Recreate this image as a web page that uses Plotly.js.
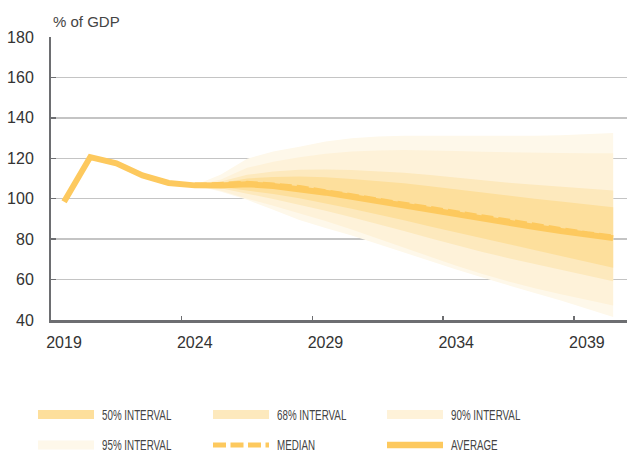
<!DOCTYPE html>
<html>
<head>
<meta charset="utf-8">
<script src="https://cdn.plot.ly/plotly-3.0.1.min.js"></script>
<style>html,body{margin:0;padding:0;background:#fff;}#chart{width:638px;height:455px;}</style>
</head>
<body>
<div id="chart"></div>
<script>
// ---- data ----
const years = [2019,2020,2021,2022,2023,2024,2025,2026,2027,2028,2029,2030,2031,2032,2033,2034,2035,2036,2037,2038,2039,2040];
const average = [98.5,120.6,117.5,111.5,107.8,106.6,106.5,107.2,106.3,104.9,103.0,100.9,98.7,96.5,94.2,92.2,90.0,88.0,86.0,84.0,82.2,80.5];
const fanYears = [2024,2025,2026,2027,2028,2029,2030,2031,2032,2033,2034,2035,2036,2037,2038,2039,2040];
const median = [106.6,106.9,107.6,106.8,105.5,103.5,101.4,99.2,97.0,94.8,92.7,90.5,88.5,86.5,84.5,82.7,81.0];
const p95High = [106.6,112.0,119.8,123.3,125.7,128.3,129.9,130.8,131.2,131.3,131.2,131.1,131.0,131.1,131.4,131.9,132.5];
const p95Low  = [106.6,103.5,99.5,94.5,89.5,85.5,81.8,77.8,73.5,69.2,65.0,61.0,57.0,53.3,49.7,45.5,41.5];
const p90High = [106.6,109.5,115.3,118.3,120.5,122.2,123.3,123.9,124.1,124.0,123.6,123.2,122.9,122.7,122.6,122.5,122.5];
const p90Low  = [106.6,104.0,100.0,96.5,92.8,89.0,84.8,80.4,75.9,71.3,66.8,62.7,59.0,55.7,52.7,49.9,47.2];
const p68High = [106.6,108.5,111.8,113.5,114.3,114.5,114.2,113.6,112.8,111.7,110.4,109.0,107.9,106.9,106.0,105.0,104.1];
const p68Low  = [106.6,105.2,102.5,99.8,97.0,94.0,90.8,87.5,84.0,80.5,77.0,73.7,70.6,67.6,64.8,62.0,59.2];
const p50High = [106.6,107.8,110.0,110.8,111.0,110.6,109.8,108.8,107.6,106.2,104.6,103.0,101.5,100.0,98.6,97.2,95.8];
const p50Low  = [106.6,105.8,104.2,102.3,100.2,97.6,95.0,92.2,89.3,86.3,83.2,80.2,77.3,74.5,71.6,68.7,65.8];
const tickYears = ['2019','2024','2029','2034','2039'];
const legendLabels = ['50% INTERVAL','68% INTERVAL','90% INTERVAL','95% INTERVAL','MEDIAN','AVERAGE'];

// ---- styles ----
const C50 = '#fddf9c', C68 = '#fde9bd', C90 = '#fef2d9', C95 = '#fef8ea', CLINE = '#fdc95e';
const axisCol = '#6d6e71';

function band(lo, hi, color, name) {
  return {
    x: fanYears.concat(fanYears.slice().reverse()),
    y: hi.concat(lo.slice().reverse()),
    type: 'scatter', mode: 'lines', fill: 'toself', fillcolor: color,
    line: {width: 0, color: color}, hoverinfo: 'skip', name: name, showlegend: false
  };
}

const traces = [
  band(p95Low, p95High, C95, '95% INTERVAL'),
  band(p90Low, p90High, C90, '90% INTERVAL'),
  band(p68Low, p68High, C68, '68% INTERVAL'),
  band(p50Low, p50High, C50, '50% INTERVAL'),
  {x: years, y: average, type: 'scatter', mode: 'lines', line: {color: CLINE, width: 6}, name: 'AVERAGE', showlegend: false},
  {x: fanYears, y: median, type: 'scatter', mode: 'lines', line: {color: CLINE, width: 5, dash: '12px,5px'}, name: 'MEDIAN', showlegend: false}
];

// geometry of plot area in px (for legend placement)
const L = 51, T = 37, W = 576, H = 283;
const px2x = p => (p - L) / W;
const px2y = p => (T + H - p) / H;

const colX = [38, 213, 387];
const rowY = [414.5, 445];
const swW = 56;
const legColors = [C50, C68, C90, C95, null, null];

const shapes = [];
const annotations = [{
  text: '% of GDP', xref: 'paper', yref: 'paper', x: px2x(51), y: 1, xanchor: 'left', yanchor: 'bottom',
  yshift: 5, showarrow: false, font: {family: 'Liberation Sans, Arial, sans-serif', size: 15, color: '#444'}
}];
legendLabels.forEach((lab, i) => {
  const cx = colX[i % 3], cy = rowY[Math.floor(i / 3)];
  if (legColors[i]) {
    shapes.push({type: 'rect', xref: 'paper', yref: 'paper', x0: px2x(cx), x1: px2x(cx + swW),
      y0: px2y(cy - 4.5), y1: px2y(cy + 4.5), fillcolor: legColors[i], line: {width: 0}});
  } else if (lab === 'MEDIAN') {
    shapes.push({type: 'line', xref: 'paper', yref: 'paper', x0: px2x(cx), x1: px2x(cx + swW),
      y0: px2y(cy), y1: px2y(cy), line: {color: CLINE, width: 5, dash: '13px,4.5px'}});
  } else {
    shapes.push({type: 'line', xref: 'paper', yref: 'paper', x0: px2x(cx), x1: px2x(cx + swW),
      y0: px2y(cy), y1: px2y(cy), line: {color: CLINE, width: 6.5}});
  }
  annotations.push({text: lab, xref: 'paper', yref: 'paper', x: px2x(cx + 62), y: px2y(cy),
    xanchor: 'left', yanchor: 'middle', showarrow: false,
    font: {family: 'Liberation Sans, Arial, sans-serif', size: 14, color: '#444'}});
});

const layout = {
  width: 638, height: 455,
  margin: {l: L, r: 638 - L - W, t: T, b: 455 - T - H, pad: 0},
  paper_bgcolor: '#fff', plot_bgcolor: '#fff',
  showlegend: false,
  font: {family: 'Liberation Sans, Arial, sans-serif', color: '#333'},
  xaxis: {
    range: [2018.5, 2040.53], tickmode: 'array',
    tickvals: [2018.5, 2023.5, 2028.5, 2033.5, 2038.5], ticktext: tickYears,
    ticklabelshift: 13, ticklabelstandoff: 6,
    ticks: 'inside', ticklen: 4, tickwidth: 1.5, tickcolor: axisCol,
    showline: true, linecolor: axisCol, linewidth: 2.5, showgrid: false, zeroline: false,
    tickfont: {size: 16, color: '#333'}
  },
  yaxis: {
    range: [40, 180], tickmode: 'linear', tick0: 40, dtick: 20,
    showgrid: true, gridcolor: '#c4c4c4', gridwidth: 1.3,
    showline: true, linecolor: axisCol, linewidth: 2, zeroline: false,
    ticks: 'inside', ticklen: 5, tickwidth: 1.5, tickcolor: axisCol,
    ticklabelstandoff: 12,
    tickfont: {size: 16, color: '#333'}
  },
  shapes: shapes,
  annotations: annotations
};

Plotly.newPlot('chart', traces, layout, {displayModeBar: false, staticPlot: true}).then(gd => {
  // condensed look for the legend labels (horizontal squeeze anchored at the left edge)
  gd.querySelectorAll('text.annotation-text').forEach(t => {
    if (legendLabels.indexOf(t.textContent) < 0) return;
    const bb = t.getBBox();
    const x0 = bb.x;
    t.setAttribute('transform', 'translate(' + x0 + ',0) scale(0.7,1) translate(' + (-x0) + ',0)');
  });
});
</script>
</body>
</html>
